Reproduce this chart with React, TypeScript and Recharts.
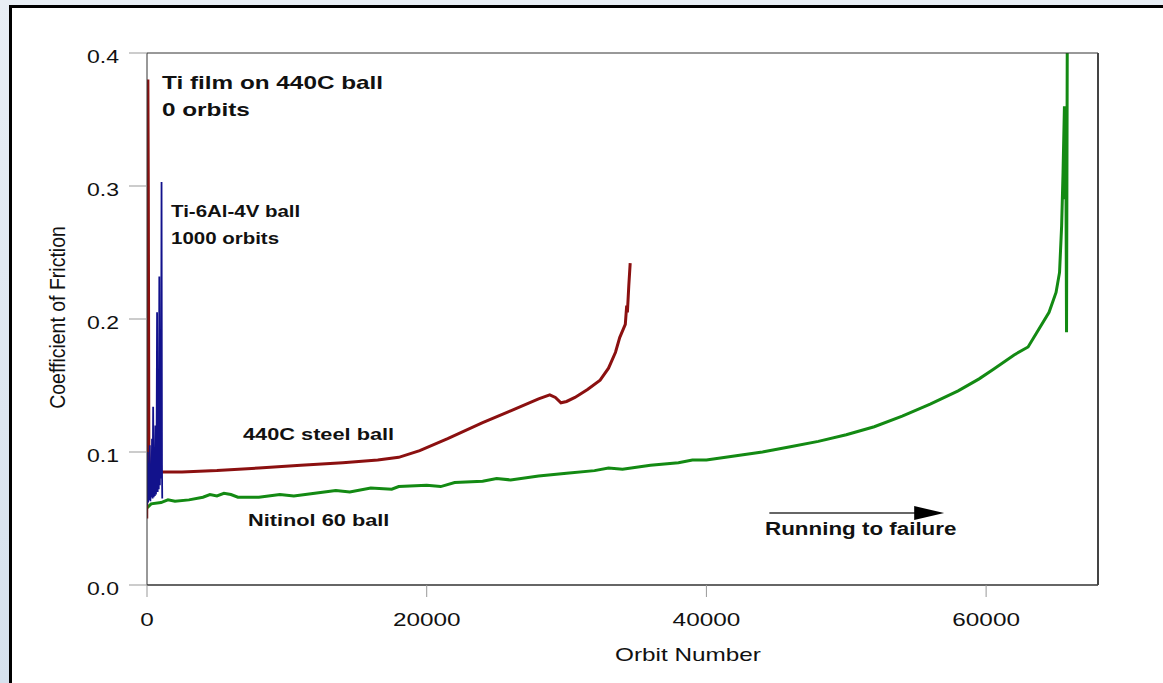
import React from 'react';
import { LineChart, Line, XAxis, YAxis, ReferenceLine } from 'recharts';

// orbit number / coefficient of friction pairs
const tiFilmOrbits = [0, 30, 50, 80, 110, 150, 200];
const tiFilmCof = [0.05, 0.2, 0.33, 0.38, 0.3, 0.1, 0.085];

const ti64Orbits = [
  0, 40, 80, 120, 160, 200, 240, 280, 320, 360, 400, 440, 480, 520, 560, 600, 640, 680, 720, 760,
  800, 840, 880, 920, 960, 1000, 1040, 1070, 1090,
];
const ti64Cof = [
  0.06, 0.1, 0.062, 0.092, 0.064, 0.105, 0.063, 0.085, 0.066, 0.11, 0.065, 0.134, 0.066, 0.098,
  0.067, 0.12, 0.068, 0.09, 0.205, 0.07, 0.1, 0.072, 0.232, 0.075, 0.15, 0.08, 0.303, 0.09, 0.065,
];

const steelOrbits = [
  0, 1000, 2500, 5000, 8000, 11000, 14000, 16500, 18000, 19500, 21500, 24000, 26000, 28000, 28800,
  29200, 29600, 30000, 30600, 31500, 32400, 33000, 33500, 33800, 34200, 34300, 34350, 34450, 34550,
];
const steelCof = [
  0.084, 0.085, 0.085, 0.086, 0.088, 0.09, 0.092, 0.094, 0.096, 0.101, 0.11, 0.122, 0.131, 0.14,
  0.143, 0.141, 0.137, 0.138, 0.141, 0.147, 0.154, 0.163, 0.175, 0.186, 0.196, 0.21, 0.205, 0.225,
  0.242,
];

const nitinolOrbits = [
  0, 300, 1000, 1500, 2000, 3000, 4000, 4500, 5000, 5500, 6000, 6500, 8000, 9500, 10500, 12000,
  13500, 14500, 16000, 17500, 18000, 20000, 21000, 22000, 24000, 25000, 26000, 28000, 30000, 32000,
  33000, 34000, 36000, 38000, 39000, 40000, 42000, 44000, 46000, 48000, 50000, 52000, 54000, 56000,
  58000, 59500, 60500, 62000, 63000, 64500, 65000, 65250, 65400, 65500, 65600, 65650, 65700, 65750,
  65800,
];
const nitinolCof = [
  0.058, 0.061, 0.062, 0.064, 0.063, 0.064, 0.066, 0.068, 0.067, 0.069, 0.068, 0.066, 0.066, 0.068,
  0.067, 0.069, 0.071, 0.07, 0.073, 0.072, 0.074, 0.075, 0.074, 0.077, 0.078, 0.08, 0.079, 0.082,
  0.084, 0.086, 0.088, 0.087, 0.09, 0.092, 0.094, 0.094, 0.097, 0.1, 0.104, 0.108, 0.113, 0.119,
  0.127, 0.136, 0.146, 0.155, 0.162, 0.173, 0.179, 0.205, 0.22, 0.235, 0.27, 0.31, 0.36, 0.29, 0.33,
  0.19, 0.4,
];

const xTicks = [0, 20000, 40000, 60000];
const yTicks = [0, 0.1, 0.2, 0.3, 0.4];
const arrowOrbits = [44500, 57000];
const arrowCof = 0.0541;

const zip = (xs: number[], ys: number[]) => xs.map((x, i) => ({ x, y: ys[i] }));
const tiFilm = zip(tiFilmOrbits, tiFilmCof);
const ti64 = zip(ti64Orbits, ti64Cof);
const steel = zip(steelOrbits, steelCof);
const nitinol = zip(nitinolOrbits, nitinolCof);

const FONT = "'Liberation Sans', Arial, sans-serif";
const SX = 1.28;

const StretchText = ({ x, y, size, bold, anchor = 'start', children }: any) => (
  <text
    transform={`translate(${x},${y}) scale(${SX},1)`}
    fontSize={size}
    fontWeight={bold ? 700 : 400}
    fontFamily={FONT}
    textAnchor={anchor}
    fill="#111"
  >
    {children}
  </text>
);

const YTick = ({ x, y, payload }: any) => (
  <StretchText x={x} y={y + 10} size={18} anchor="end">
    {Number(payload.value).toFixed(1)}
  </StretchText>
);

const XTick = ({ x, y, payload }: any) => (
  <StretchText x={x} y={y + 29} size={19} anchor="middle">
    {payload.value}
  </StretchText>
);

const Arrow = (p: any) => (
  <g>
    <line x1={p.x1} y1={p.y1} x2={p.x2 - 28} y2={p.y2} stroke="#333" strokeWidth={1.6} />
    <path d={`M${p.x2 - 30},${p.y2 - 7}L${p.x2},${p.y2}L${p.x2 - 30},${p.y2 + 7}Z`} fill="#000" />
  </g>
);

export default function App() {
  return (
    <div
      style={{
        position: 'absolute',
        left: 0,
        top: 0,
        width: 1163,
        height: 683,
        overflow: 'hidden',
        background: 'linear-gradient(#e8eef5, #d6e1ed)',
      }}
    >
      <div
        style={{
          position: 'absolute',
          left: 9,
          top: 5,
          width: 1200,
          height: 720,
          background: '#fff',
          borderTop: '3px solid #000',
          borderLeft: '3px solid #000',
        }}
      />
      <div style={{ position: 'absolute', left: 0, top: 0 }}>
        <LineChart width={1163} height={683} margin={{ top: 41, right: 48, bottom: 38, left: 87 }}>
          <XAxis
            dataKey="x"
            type="number"
            domain={[0, 68000]}
            ticks={xTicks}
            allowDataOverflow
            height={60}
            tickSize={12}
            tickMargin={0}
            tick={<XTick />}
            axisLine={{ stroke: '#333', strokeWidth: 1.5 }}
            tickLine={{ stroke: '#999' }}
          />
          <XAxis
            xAxisId="top"
            orientation="top"
            type="number"
            domain={[0, 68000]}
            ticks={xTicks}
            allowDataOverflow
            height={12}
            tickSize={12}
            tick={false}
            axisLine={{ stroke: '#333' }}
            tickLine={{ stroke: '#999' }}
          />
          <YAxis
            type="number"
            domain={[0, 0.4]}
            ticks={yTicks}
            allowDataOverflow
            width={60}
            tickSize={18}
            tickMargin={10}
            tick={<YTick />}
            axisLine={{ stroke: '#333' }}
            tickLine={{ stroke: '#999' }}
          />
          <YAxis
            yAxisId="right"
            orientation="right"
            type="number"
            domain={[0, 0.4]}
            ticks={yTicks}
            allowDataOverflow
            width={17}
            tickSize={17}
            tick={false}
            axisLine={{ stroke: '#444', strokeWidth: 2 }}
            tickLine={{ stroke: '#999' }}
          />
          <Line data={nitinol} dataKey="y" type="linear" stroke="#138a13" strokeWidth={3} dot={false} isAnimationActive={false} />
          <Line data={steel} dataKey="y" type="linear" stroke="#8b1010" strokeWidth={3} dot={false} isAnimationActive={false} />
          <Line data={tiFilm} dataKey="y" type="linear" stroke="#8b1010" strokeWidth={2.5} dot={false} isAnimationActive={false} />
          <Line data={ti64} dataKey="y" type="linear" stroke="#12128c" strokeWidth={1.8} dot={false} isAnimationActive={false} />
          <ReferenceLine
            segment={[
              { x: arrowOrbits[0], y: arrowCof },
              { x: arrowOrbits[1], y: arrowCof },
            ]}
            shape={Arrow}
          />
        </LineChart>
      </div>
      <svg
        width={1163}
        height={683}
        style={{ position: 'absolute', left: 0, top: 0, pointerEvents: 'none' }}
      >
        <text
          transform={`translate(65,317.5) scale(1.15,1) rotate(-90)`}
          fontSize={19.5}
          fontFamily={FONT}
          textAnchor="middle"
          fill="#111"
        >
          Coefficient of Friction
        </text>
        <StretchText x={688} y={661} size={19} anchor="middle">Orbit Number</StretchText>
        <StretchText x={162} y={89} size={19} bold>Ti film on 440C ball</StretchText>
        <StretchText x={162} y={116} size={19} bold>0 orbits</StretchText>
        <StretchText x={171} y={217} size={16} bold>Ti-6Al-4V ball</StretchText>
        <StretchText x={171} y={244} size={16} bold>1000 orbits</StretchText>
        <StretchText x={243} y={440} size={17} bold>440C steel ball</StretchText>
        <StretchText x={248} y={526} size={17} bold>Nitinol 60 ball</StretchText>
        <StretchText x={765} y={535} size={17.5} bold>Running to failure</StretchText>
      </svg>
    </div>
  );
}
